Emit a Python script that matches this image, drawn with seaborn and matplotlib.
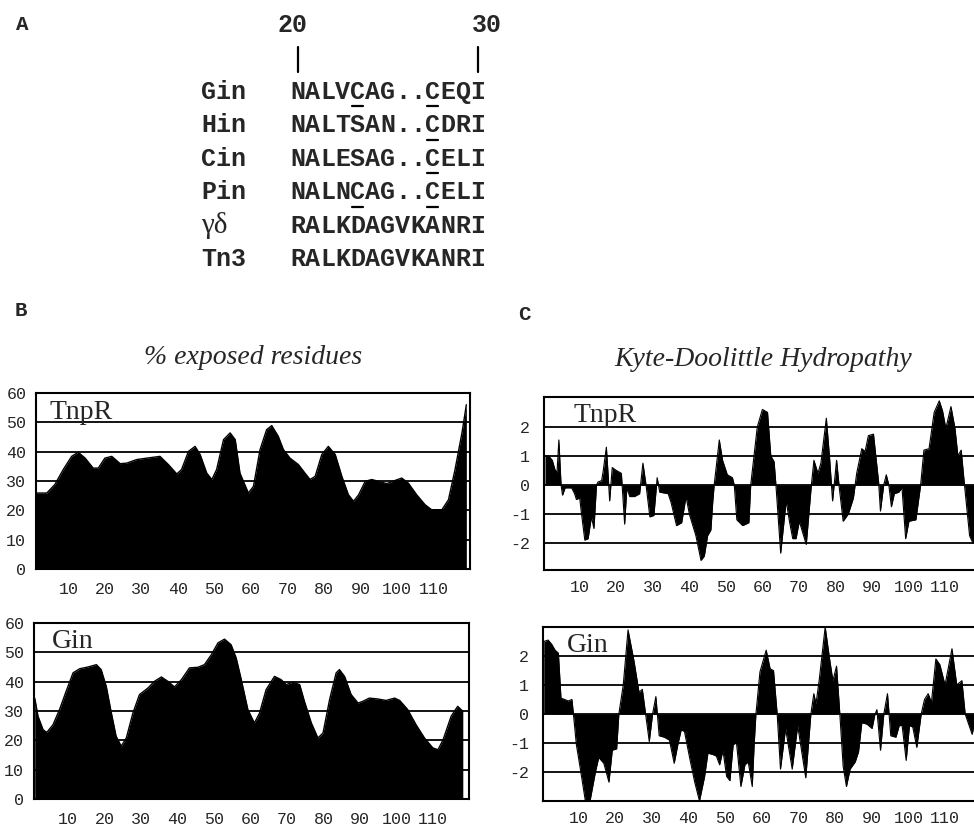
import matplotlib
matplotlib.use('Agg')
import matplotlib.pyplot as plt
import pandas as pd
import seaborn as sns

# ---- A: sequence alignment ----
strains = ['Gin', 'Hin', 'Cin', 'Pin', 'γδ', 'Tn3']
sequences = ['NALVCAG..CEQI', 'NALTSAN..CDRI', 'NALESAG..CELI',
             'NALNCAG..CELI', 'RALKDAGVKANRI', 'RALKDAGVKANRI']
underlined = [[4, 9], [9], [9], [4, 9], [], []]
residue_labels = ['20', '30']
residue_cols = [0, 12]

# ---- B: % exposed residues ----
res_ticks = [10, 20, 30, 40, 50, 60, 70, 80, 90, 100, 110]
exp_ticks = [0, 10, 20, 30, 40, 50, 60]

tnpr_exp_pos = [1.1, 4.1, 6.3, 8.6, 10.9, 12.7, 14.6, 16.8, 18.2, 20.0, 21.9, 24.2, 26.0,
                28.7, 31.5, 35.1, 37.4, 39.7, 41.0, 42.9, 44.7, 46.1, 47.9, 49.3, 50.6,
                52.5, 54.3, 55.7, 57.0, 59.3, 60.7, 62.5, 64.3, 65.7, 67.5, 68.9, 70.7,
                73.0, 74.8, 76.2, 77.6, 79.4, 81.2, 83.1, 84.9, 86.7, 88.1, 89.5, 91.3,
                93.1, 94.9, 97.2, 99.5, 101.3, 103.1, 105.4, 107.7, 109.5, 112.3, 114.1,
                115.9, 117.8, 119.0]
tnpr_exp_val = [25.9, 25.9, 28.8, 33.9, 38.4, 39.8, 37.8, 34.4, 34.4, 37.8, 38.4, 35.9, 36.1,
                37.3, 37.8, 38.4, 35.6, 32.4, 33.9, 40.1, 41.8, 39.0, 32.7, 30.5, 33.9,
                44.1, 46.4, 44.1, 32.7, 25.9, 28.2, 40.7, 47.5, 48.9, 45.2, 40.7, 37.8,
                35.6, 32.7, 30.5, 31.6, 39.0, 41.8, 39.0, 31.6, 25.3, 23.1, 25.3, 29.9,
                30.5, 29.9, 29.1, 30.2, 31.0, 29.3, 25.3, 21.9, 20.2, 20.2, 23.6,
                33.9, 46.4, 56.0]

gin_exp_pos = [0.9, 1.8, 3.2, 4.2, 5.9, 7.7, 9.5, 11.4, 13.2, 15.5, 17.8, 19.1, 20.5, 21.9,
               23.2, 24.6, 26.0, 27.8, 29.6, 31.9, 33.7, 35.6, 37.4, 39.2, 41.1, 43.3,
               45.6, 47.4, 49.3, 51.1, 52.9, 54.7, 56.1, 57.5, 59.3, 61.1, 62.5, 64.3,
               66.6, 68.4, 69.8, 71.6, 73.5, 74.8, 76.7, 78.5, 79.9, 81.7, 83.5, 84.4,
               85.8, 87.6, 89.5, 90.8, 92.6, 94.9, 97.2, 99.5, 100.9, 103.1, 105.4, 107.7,
               110.0, 111.4, 112.8, 115.0, 116.8, 118.2]
gin_exp_val = [34.4, 28.2, 23.6, 22.7, 25.3, 30.5, 36.7, 43.0, 44.4, 45.0, 45.8, 44.1, 38.4,
               29.3, 21.4, 18.0, 20.8, 29.3, 35.6, 37.8, 40.1, 41.6, 40.1, 38.2, 40.7, 44.7,
               44.9, 45.8, 49.2, 53.2, 54.5, 52.6, 48.1, 40.7, 30.5, 25.9, 29.3, 37.3,
               41.8, 40.7, 39.0, 39.8, 39.0, 33.3, 25.9, 20.8, 22.5, 33.9, 43.0, 44.1,
               41.8, 35.6, 32.7, 33.3, 34.4, 34.1, 33.6, 34.4, 33.6, 30.5, 25.3, 20.8,
               17.4, 16.8, 20.2, 28.2, 31.6, 29.9]

# ---- C: Kyte-Doolittle hydropathy ----
kd_ticks = [-2, -1, 0, 1, 2]

tnpr_kd_pos = [0.5, 1.5, 2.5, 3.3, 3.8, 4.3, 4.9, 5.3, 6.0, 7.8, 8.6, 9.1, 10.0, 10.5, 11.4,
               12.3, 13.2, 13.9, 14.6, 15.0, 16.0, 16.4, 17.3, 17.8, 18.2, 18.9, 20.0, 21.4,
               22.3, 22.9, 23.7, 25.0, 26.4, 27.3, 28.2, 29.2, 30.3, 31.2, 31.9, 34.2, 35.0,
               36.5, 37.9, 39.1, 40.0, 41.8, 43.2, 44.1, 45.0, 45.9, 46.4, 46.8, 48.2, 49.1,
               50.4, 51.8, 52.3, 53.0, 54.6, 56.3, 56.8, 57.7, 58.6, 60.0, 61.4, 62.3, 63.2,
               63.7, 65.0, 66.5, 67.4, 68.3, 69.2, 70.1, 72.0, 73.4, 74.1, 75.2, 76.0, 77.5,
               78.4, 79.2, 80.3, 81.0, 82.1, 83.5, 84.9, 85.8, 87.2, 88.1, 89.0, 90.4, 91.8,
               92.3, 93.2, 93.9, 94.6, 95.3, 96.1, 97.3, 98.2, 99.2, 100.1, 102.0, 103.3,
               104.2, 105.6, 107.0, 108.4, 109.3, 110.2, 111.6, 112.7, 113.5, 114.4, 115.3,
               116.7, 117.6, 118.5]
tnpr_kd_val = [1.0, 1.0, 0.85, 0.5, 0.45, 1.55, 0.0, -0.35, -0.1, -0.1, -0.3, -0.5, -0.45,
               -1.0, -1.9, -1.85, -1.1, -1.5, 0.0, 0.1, 0.15, 0.45, 1.3, 0.3, -0.55, 0.6, 0.5,
               0.4, -1.35, -0.1, -0.4, -0.4, -0.3, 0.75, -0.05, -1.1, -1.05, 0.25, -0.25,
               -0.3, -0.6, -1.4, -1.3, -0.4, -1.0, -1.75, -2.6, -2.45, -1.75, -1.55, -0.6,
               0.0, 1.55, 0.85, 0.35, 0.25, 0.0, -1.2, -1.4, -1.3, 0.0, 1.0, 2.0, 2.6, 2.5,
               1.0, 0.8, 0.0, -2.35, -0.55, -1.25, -1.85, -1.85, -1.25, -2.05, 0.0, 0.85,
               0.4, 0.75, 2.3, 0.9, -0.55, 0.85, -0.05, -1.25, -1.0, -0.45, 0.4, 1.25, 1.15,
               1.7, 1.75, 0.1, -0.9, 0.0, 0.35, 0.0, -0.75, -0.3, -0.25, -0.1, -1.85, -1.25,
               -1.2, 0.0, 1.2, 1.25, 2.5, 2.9, 2.55, 1.95, 2.7, 1.95, 1.0, 1.2, 0.0, -1.75,
               -2.0, -1.9]

gin_kd_pos = [0.5, 1.7, 2.7, 3.6, 4.5, 5.0, 5.2, 6.2, 7.2, 8.2, 8.6, 9.4, 10.5, 11.8, 13.2,
              14.6, 15.5, 16.9, 18.3, 19.2, 20.4, 21.0, 22.2, 23.5, 25.1, 26.5, 27.4, 28.3,
              29.3, 30.2, 31.1, 32.0, 33.4, 34.8, 36.1, 37.1, 38.0, 38.9, 40.3, 41.7, 43.0,
              44.4, 45.3, 46.7, 47.6, 48.5, 49.4, 50.4, 51.3, 52.2, 53.1, 54.3, 55.4, 56.3,
              57.4, 57.9, 58.4, 59.5, 61.2, 62.3, 63.2, 64.2, 65.1, 66.5, 68.3, 69.8, 72.0,
              73.4, 74.2, 74.8, 75.7, 77.3, 78.5, 79.4, 80.4, 81.3, 82.2, 83.1, 84.1, 85.5,
              86.4, 87.3, 88.7, 90.1, 90.8, 91.4, 92.4, 93.3, 94.3, 95.2, 96.6, 97.5, 98.3,
              99.4, 100.3, 101.2, 102.3, 103.5, 104.4, 105.4, 106.3, 107.5, 108.6, 110.0,
              111.9, 113.2, 114.6, 115.5, 117.4, 118.6]
gin_kd_val = [2.5, 2.55, 2.4, 2.2, 2.1, 1.0, 0.55, 0.5, 0.45, 0.5, 0.0, -1.05, -1.9, -2.95,
              -2.95, -2.0, -1.5, -1.7, -2.35, -1.25, -1.2, 0.0, 1.0, 2.9, 1.85, 0.75, 0.85,
              0.0, -0.95, 0.0, 0.6, -0.75, -0.8, -0.9, -1.7, -1.05, -0.55, -0.6, -1.5, -2.35,
              -3.0, -2.15, -1.35, -1.4, -1.45, -1.75, -1.25, -2.15, -2.3, -1.05, -1.0, -2.5,
              -1.75, -1.65, -2.5, -1.1, 0.0, 1.45, 2.2, 1.55, 1.5, 0.0, -1.9, -0.5, -1.9,
              -0.4, -2.2, 0.0, 0.7, 0.35, 1.2, 3.0, 1.9, 1.15, 1.65, 0.0, -1.8, -2.5, -1.9,
              -1.65, -1.3, -0.3, -0.35, -0.5, -0.05, 0.15, -1.25, 0.0, 0.7, -0.75, -0.8,
              -0.4, -0.4, -1.6, -0.4, -0.45, -1.15, 0.0, 0.5, 0.7, 0.4, 1.9, 1.7, 1.0, 2.25,
              1.0, 1.15, 0.0, -0.7, 0.0]

sns.set_style('white')
plt.rcParams['font.family'] = ['DejaVu Sans']
plt.rcParams['axes.unicode_minus'] = False
mono = 'Liberation Mono'
serif = 'Liberation Serif'

W, H = 974, 825
fig = plt.figure(figsize=(W / 100, H / 100), dpi=100)


def px_axes(x0, y0, x1, y1):
    """axes from pixel box (top-left origin)"""
    return fig.add_axes([x0 / W, 1 - y1 / H, (x1 - x0) / W, (y1 - y0) / H])


def style_frame(ax, hide_right=False):
    for side, sp in ax.spines.items():
        sp.set_color('black')
        sp.set_linewidth(1.5)
        sp.set_visible(True)
    if hide_right:
        ax.spines['right'].set_visible(False)
    for lab in ax.get_xticklabels() + ax.get_yticklabels():
        lab.set_family(mono)
        lab.set_fontsize(12)


def exposure_panel(ax, pos, val, name, xlim, name_xy):
    df = pd.DataFrame({'res': pos, 'exposed': val})
    ax.fill_between(df['res'], 0, df['exposed'], color='black', lw=0, zorder=2)
    sns.lineplot(data=df, x='res', y='exposed', ax=ax, color='black', lw=1, zorder=3)
    ax.set_xlim(*xlim)
    ax.set_ylim(0, 60)
    ax.set_xticks(res_ticks)
    ax.set_yticks(exp_ticks)
    ax.grid(axis='y', color='black', lw=1.3)
    ax.grid(axis='x', visible=False)
    ax.set_axisbelow(True)
    ax.set_xlabel('')
    ax.set_ylabel('')
    ax.tick_params(axis='x', direction='out', length=5, width=1.2, pad=4, color='black')
    ax.tick_params(axis='y', length=0, pad=7)
    style_frame(ax)
    ax.text(name_xy[0], name_xy[1], name, transform=ax.transAxes, family=serif,
            fontsize=20, va='baseline', ha='left', zorder=5)


def hydro_panel(ax, pos, val, name, xlim, ylim, name_xy):
    df = pd.DataFrame({'res': pos, 'kd': val})
    ax.fill_between(df['res'], 0, df['kd'], color='black', lw=0, zorder=2)
    sns.lineplot(data=df, x='res', y='kd', ax=ax, color='black', lw=0.8, zorder=3)
    ax.set_xlim(*xlim)
    ax.set_ylim(*ylim)
    ax.set_xticks(res_ticks)
    ax.set_yticks(kd_ticks)
    ax.grid(axis='y', color='black', lw=1.3)
    ax.grid(axis='x', visible=False)
    ax.set_axisbelow(True)
    ax.set_xlabel('')
    ax.set_ylabel('')
    ax.tick_params(axis='x', direction='inout', length=8, width=1.2, pad=3, color='black')
    ax.tick_params(axis='y', length=0, pad=10)
    style_frame(ax, hide_right=True)
    ax.text(name_xy[0], name_xy[1], name, transform=ax.transAxes, family=serif,
            fontsize=20, va='baseline', ha='left', zorder=5)


# panel A
ax_a = px_axes(0, 0, W, 280)
ax_a.axis('off')
ax_a.set_xlim((0 - 297.5) / 15, (W - 297.5) / 15)
ax_a.set_ylim((280 - 99) / 33.4, (0 - 99) / 33.4)
for k, (lab, col) in enumerate(zip(residue_labels, residue_cols)):
    nudge = -0.35 if k == 0 else 0.6
    ax_a.text(col + nudge, -2.22, lab, family=mono, weight='bold', fontsize=18,
              ha='center', va='center')
    ax_a.plot([col, col], [-1.56, -0.81], color='black', lw=1.6)
for i, (name, seq) in enumerate(zip(strains, sequences)):
    if name == 'γδ':
        ax_a.text(-6.4, i, name, family=serif, fontsize=21, ha='left', va='baseline')
    else:
        ax_a.text(-6.4, i, name, family=mono, weight='bold', fontsize=18,
                  ha='left', va='baseline')
    for c, ch in enumerate(seq):
        ax_a.text(c, i, ch, family=mono, weight='bold', fontsize=18,
                  ha='center', va='baseline')
    for c in underlined[i]:
        ax_a.plot([c - 0.38, c + 0.38], [i + 0.22, i + 0.22], color='black', lw=1.6)

# panel B
ax_b1 = px_axes(36, 393, 470, 569)
exposure_panel(ax_b1, tnpr_exp_pos, tnpr_exp_val, 'TnpR', (1.14, 120.0), (0.032, 0.852))
ax_b2 = px_axes(34, 623, 469, 799)
exposure_panel(ax_b2, gin_exp_pos, gin_exp_val, 'Gin', (0.7, 119.9), (0.041, 0.858))

# panel C (runs off the right edge of the page)
ax_c1 = px_axes(544, 397, 978, 570)
hydro_panel(ax_c1, tnpr_kd_pos, tnpr_kd_val, 'TnpR', (0.23, 119.0), (-2.93, 3.03), (0.067, 0.855))
ax_c2 = px_axes(543, 627, 978, 801)
hydro_panel(ax_c2, gin_kd_pos, gin_kd_val, 'Gin', (0.3, 119.0), (-3.0, 3.0), (0.055, 0.856))

fig.text(253 / W, 1 - 357 / H, '% exposed residues', family=serif, style='italic',
         fontsize=20, ha='center', va='center')
fig.text(763 / W, 1 - 360 / H, 'Kyte-Doolittle Hydropathy', family=serif, style='italic',
         fontsize=20, ha='center', va='center')
for letter, (lx, ly) in zip(['A', 'B', 'C'], [(22, 24), (21, 310), (524, 314)]):
    fig.text(lx / W, 1 - ly / H, letter, family=mono, weight='bold',
             fontsize=15, ha='center', va='center')

fig.savefig('out.png', dpi=100)
